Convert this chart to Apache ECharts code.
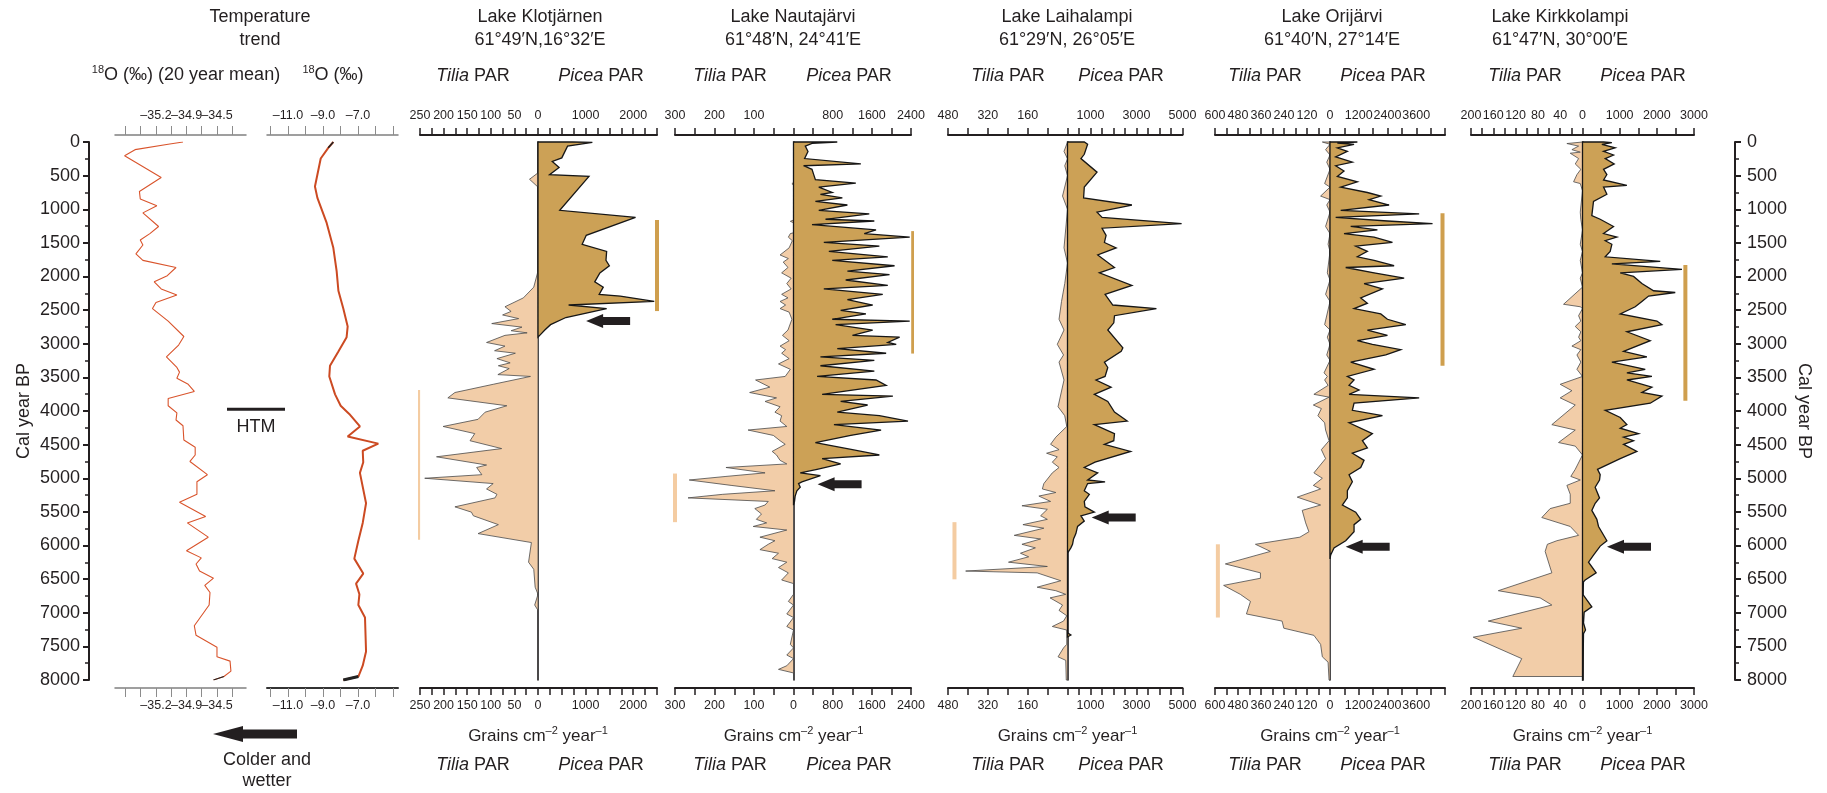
<!DOCTYPE html>
<html>
<head>
<meta charset="utf-8">
<script src="https://cdn.jsdelivr.net/npm/echarts@6/dist/echarts.min.js"></script>
<style>
html,body{margin:0;padding:0;background:#fff;}
#chart{width:1827px;height:793px;}
</style>
</head>
<body>
<div id="chart"></div>
<script>
// ================= DATA =================
const temp1Years = [0,34,114,204,528,735,846,947,1054,1256,1362,1457,1532,1664,1760,1866,1988,2079,2185,2275,2387,2477,2663,2892,3019,3194,3353,3422,3513,3603,3709,3815,3922,4028,4134,4219,4431,4538,4654,4750,4947,5053,5239,5356,5568,5664,5876,6078,6184,6275,6380,6486,6593,6699,6885,7193,7336,7512,7655,7719,7868,7948,8000];
const temp1Vals = [-34.89,-35.06,-35.44,-35.56,-35.14,-35.39,-35.38,-35.19,-35.35,-35.17,-35.27,-35.38,-35.35,-35.43,-35.35,-34.97,-35.07,-35.22,-35.14,-34.96,-35.20,-35.24,-35.06,-34.88,-34.94,-35.08,-34.96,-34.93,-34.96,-34.83,-34.76,-35.06,-35.06,-34.96,-34.97,-34.89,-34.88,-34.75,-34.75,-34.81,-34.61,-34.73,-34.73,-34.93,-34.63,-34.84,-34.60,-34.85,-34.68,-34.74,-34.70,-34.54,-34.64,-34.58,-34.59,-34.76,-34.74,-34.50,-34.50,-34.35,-34.34,-34.42,-34.54];
const temp2Years = [0,87,246,661,831,1203,1574,1920,2212,2477,2743,2902,3114,3327,3486,3752,3922,4044,4230,4378,4485,4591,4761,4920,5372,5664,5929,6195,6418,6567,6726,6885,7071,7576,7788,7948,8000];
const temp2Vals = [-8.41,-8.70,-9.13,-9.46,-9.32,-8.79,-8.41,-8.22,-8.12,-7.84,-7.59,-7.65,-8.12,-8.60,-8.64,-8.31,-7.99,-7.50,-6.89,-7.59,-5.84,-6.73,-6.70,-6.89,-6.54,-6.73,-6.98,-7.21,-6.70,-7.11,-6.92,-6.98,-6.60,-6.54,-6.73,-6.98,-7.84];
const temp1Ticks = [-35.55,-35.375,-35.2,-35.025,-34.85,-34.675,-34.5,-34.325];
const temp1Labels = [-35.2,-34.9,-34.5];
const temp2Ticks = [-12,-11,-10,-9,-8,-7,-6,-5];
const temp2Labels = [-11,-9,-7];
const htmYear = 3975;

const lakeNames = ['Lake Klotjärnen','Lake Nautajärvi','Lake Laihalampi','Lake Orijärvi','Lake Kirkkolampi'];
const lakeCoords = ['61°49′N,16°32′E','61°48′N, 24°41′E','61°29′N, 26°05′E','61°40′N, 27°14′E','61°47′N, 30°00′E'];

const klotPiceaYears = [0,7,61,236,289,379,486,512,1016,1122,1388,1521,1627,1760,1840,1946,2079,2158,2265,2291,2371,2424,2477,2557,2610,2716,2796,2876,2902];
const klotPiceaVals = [728,1142,621,500,300,443,243,1071,457,2049,1014,928,1442,1428,1499,1300,1192,1371,1285,1728,2442,643,1442,942,585,264,143,36,0];
const klotTiliaYears = [0,459,554,671,1919,2158,2318,2450,2519,2572,2626,2700,2753,2806,2838,2875,2981,3035,3104,3141,3221,3284,3327,3369,3459,3486,3603,3725,3805,3922,4017,4124,4230,4336,4442,4559,4681,4803,4840,4947,5000,5079,5159,5239,5292,5425,5504,5558,5690,5823,5956,6248,6354,6620,6726,6885,6965,8000];
const klotTiliaVals = [0,0,18,0,0,9,31,70,57,75,41,98,34,57,23,70,109,70,92,48,87,59,84,61,85,16,95,176,191,66,112,127,201,134,144,77,215,109,130,119,240,95,109,87,91,176,141,137,84,127,14,20,9,6,0,7,0,0];

const nautPiceaYears = [0,20,61,140,246,326,353,406,485,559,612,671,751,778,831,884,937,1016,1069,1149,1175,1229,1308,1362,1415,1494,1548,1627,1707,1760,1840,1919,1972,2052,2132,2185,2265,2344,2424,2503,2557,2636,2663,2716,2796,2875,2902,2981,3008,3072,3141,3194,3247,3327,3406,3486,3539,3619,3752,3778,3858,3911,4017,4070,4150,4203,4283,4363,4469,4575,4654,4708,4787,4867,4920,4962,5053,5079,5133,5186,5265,5345,5400];
const nautPiceaVals = [894,378,241,296,227,1376,206,378,413,447,1273,516,791,550,998,447,1101,516,1548,654,1651,378,1686,1445,2374,619,1754,722,1926,791,2064,1101,1961,1066,1926,619,1823,1101,1617,963,1479,791,2374,860,1617,1204,2167,1926,2098,894,1892,550,1651,550,1651,482,1686,1892,585,2030,963,1514,894,1754,2339,826,1789,1170,447,1204,1754,585,963,482,138,550,172,103,138,69,34,21,0];
const nautTiliaYears = [0,600,620,640,1160,1180,1200,1350,1362,1415,1468,1574,1680,1733,1786,1866,1946,2025,2105,2185,2265,2318,2371,2424,2477,2530,2636,2796,2875,2955,3035,3088,3141,3221,3300,3380,3486,3539,3645,3725,3805,3858,3937,4017,4070,4150,4230,4283,4363,4442,4495,4601,4654,4734,4787,4840,4920,4973,5026,5106,5186,5239,5292,5345,5398,5451,5531,5611,5664,5717,5770,5876,5929,5982,6062,6115,6195,6248,6328,6407,6513,6566,6726,6832,6885,7018,7071,7204,7257,7470,7523,7629,7682,7788,7842,7895,8000];
const nautTiliaVals = [0,0,4,0,0,8,0,0,8,13,3,11,34,13,26,14,30,6,17,6,30,14,34,20,34,11,4,14,28,11,34,20,30,11,38,8,21,96,60,111,43,72,34,47,30,34,17,115,51,34,21,54,43,34,17,171,72,171,264,158,47,179,267,64,72,98,81,94,68,102,17,85,47,64,85,38,54,17,38,13,30,0,0,13,0,17,0,17,0,8,0,17,0,17,38,0,0];

const laihPiceaYears = [0,34,183,246,449,671,831,937,1043,1122,1213,1282,1388,1494,1574,1680,1866,1946,2132,2265,2424,2477,2583,2689,2796,3061,3114,3273,3353,3486,3539,3645,3752,3858,4017,4150,4203,4336,4442,4495,4601,4761,4840,4920,5026,5053,5079,5186,5239,5345,5425,5504,5558,5637,5717,5823,5903,5982,6035,6115,7300,7330,7360];
const laihPiceaVals = [730,875,730,584,1284,730,700,2801,1284,1503,4961,1503,1678,1605,2116,1313,2043,1386,2801,1634,1970,3866,2043,2013,1751,2407,2334,1605,1751,1634,1240,1897,1167,1751,2043,2597,1167,2043,2013,1605,2743,1196,730,1313,875,1634,875,730,948,730,759,1167,584,730,438,365,263,219,146,0,0,146,0];
const laihTiliaYears = [0,140,250,353,500,804,1000,1574,1800,2105,2371,2636,2796,3008,3167,3273,3539,3937,4070,4230,4389,4495,4575,4628,4681,4761,4840,4920,5079,5159,5212,5265,5345,5409,5462,5558,5611,5690,5743,5849,5903,5982,6035,6115,6168,6248,6312,6380,6407,6524,6620,6672,6726,6779,6885,6965,7044,7124,7204,7257,7470,7523,7655,7708,8000];
const laihTiliaVals = [0,14,0,11,0,20,0,14,0,11,24,34,14,41,16,34,14,38,11,3,47,68,34,84,41,61,34,61,95,101,47,115,68,183,81,108,81,179,95,214,108,183,129,189,156,237,81,409,122,27,122,47,7,70,20,34,3,16,61,3,3,16,38,7,5];

const orijPiceaYears = [0,15,34,87,140,220,300,353,432,512,592,671,751,804,857,937,1016,1069,1122,1175,1213,1256,1308,1362,1415,1494,1548,1627,1707,1760,1840,1866,1946,2025,2105,2185,2318,2397,2477,2557,2636,2716,2796,2875,2955,3008,3088,3167,3273,3380,3486,3539,3619,3688,3752,3805,3884,3990,4070,4176,4336,4442,4548,4628,4734,4840,4947,5053,5186,5292,5398,5504,5611,5690,5796,5929,6035,6088,6142,6200];
const orijPiceaVals = [1143,307,1004,307,725,237,934,237,585,307,1143,446,1561,2119,1631,2467,446,3722,237,2398,4280,864,1979,585,1840,2607,1073,1561,1143,1840,2676,655,1840,3095,1422,2189,1282,1561,1004,2119,2398,3164,1561,2398,1143,1770,2955,2328,864,1840,725,1004,795,1213,795,3722,1004,934,2189,795,1770,1352,1561,934,1422,1282,795,934,725,725,516,1073,1282,1004,1004,655,167,98,28,0];
const orijTiliaYears = [0,34,114,193,300,406,618,671,804,857,937,1043,1256,1362,1521,1627,1946,2052,2265,2371,2716,2796,2902,3008,3167,3247,3433,3486,3539,3619,3752,3794,3911,3964,4070,4176,4283,4442,4575,4708,4920,5000,5106,5159,5281,5398,5478,5664,5796,5876,5982,6088,6274,6407,6487,6593,6726,6832,7018,7124,7230,7336,7470,7655,7735,8000];
const orijTiliaVals = [40,0,23,0,17,0,28,0,49,0,17,0,23,0,10,0,14,0,23,0,28,0,14,0,17,0,31,14,28,10,84,5,87,45,63,28,23,5,45,23,84,40,87,49,171,49,145,127,110,157,389,311,546,363,363,555,468,415,436,250,241,84,49,40,10,5];

const kirkPiceaYears = [0,10,34,87,140,193,246,326,406,485,565,645,671,778,884,1096,1149,1256,1362,1415,1468,1521,1627,1707,1776,1813,1893,1946,1999,2105,2212,2238,2291,2371,2450,2557,2663,2716,2822,2955,3114,3194,3273,3380,3433,3486,3539,3645,3725,3778,3884,3990,4097,4203,4256,4336,4389,4442,4495,4601,4708,4867,4947,5026,5133,5292,5372,5478,5611,5717,5929,6009,6142,6248,6407,6513,6540,6726,6912,6991,7151,7257,7310,8000];
const kirkPiceaVals = [566,790,521,880,566,835,611,853,566,656,566,1194,566,656,296,251,476,835,566,925,611,790,745,611,2092,790,2676,1015,1374,1598,1913,2496,1778,1598,1419,1015,2003,2137,1194,1823,1105,1733,790,1688,1194,1868,1194,1868,1598,2137,1823,611,1015,1194,1015,1509,1105,1374,1105,1464,1015,404,476,458,341,458,341,251,386,431,656,476,296,162,368,72,27,9,251,45,27,81,27,9];
const kirkTiliaYears = [0,23,61,114,151,167,246,326,406,485,592,618,725,1043,1149,1308,1521,1627,1760,1946,2025,2158,2413,2450,2477,2583,2663,2743,2822,2902,2955,3035,3088,3167,3273,3380,3486,3603,3698,3805,3911,4203,4283,4469,4522,4654,4867,4973,5026,5106,5239,5372,5451,5584,5717,5849,5929,5982,6088,6407,6672,6779,6885,7124,7230,7363,7682,7948];
const kirkTiliaVals = [0,28,7,19,4,22,7,13,3,10,16,4,0,4,3,0,4,0,4,0,4,0,34,4,0,7,3,13,3,7,3,19,3,10,3,10,0,40,19,40,13,55,13,43,13,0,13,21,4,28,22,22,58,73,22,7,46,63,67,55,151,76,55,169,109,196,109,125];

const tiliaMax = [250,300,480,600,200];
const tiliaStep = [25,50,80,60,20];
const piceaMax = [2500,2400,5000,4800,3000];
const piceaStep = [250,400,500,600,500];
const tiliaLabelsTop = [[250,200,150,100,50,0],[300,200,100],[480,320,160],[600,480,360,240,120,0],[200,160,120,80,40,0]];
const tiliaLabelsBottom = [[250,200,150,100,50,0],[300,200,100,0],[480,320,160],[600,480,360,240,120,0],[200,160,120,80,40,0]];
const piceaLabels = [[1000,2000],[800,1600,2400],[1000,3000,5000],[1200,2400,3600],[1000,2000,3000]];

const tiliaBarStart = [3688,4930,5653,5982,6503];
const tiliaBarEnd = [5913,5653,6503,7071,7842];
const tiliaBarValue = [254,300,454,585,208];
const piceaBarStart = [1160,1325,1213,1060,1829];
const piceaBarEnd = [2514,3146,3327,3327,3847];
const piceaBarValue = [2500,2445,5326,4696,2768];
const arrowYear = [2663,5090,5584,6020,6020];
const arrowValue = [1011,492,1052,654,659];

const tiliaYears = [klotTiliaYears,nautTiliaYears,laihTiliaYears,orijTiliaYears,kirkTiliaYears];
const tiliaVals = [klotTiliaVals,nautTiliaVals,laihTiliaVals,orijTiliaVals,kirkTiliaVals];
const piceaYears = [klotPiceaYears,nautPiceaYears,laihPiceaYears,orijPiceaYears,kirkPiceaYears];
const piceaVals = [klotPiceaVals,nautPiceaVals,laihPiceaVals,orijPiceaVals,kirkPiceaVals];

// ================= LAYOUT =================
const LAYOUT = [
  {tl:420, zero:538, pr:657, title:540, tTxt:473, pTxt:601},
  {tl:675, zero:793.5, pr:911, title:793, tTxt:730, pTxt:849},
  {tl:948, zero:1067.5, pr:1182.5, title:1067, tTxt:1008, pTxt:1121},
  {tl:1215, zero:1330, pr:1445, title:1332, tTxt:1265, pTxt:1383},
  {tl:1471, zero:1582.5, pr:1694, title:1560, tTxt:1525, pTxt:1643}
];
const TXT = '#231f20';
const FONT = "'Liberation Sans', Arial, Helvetica, sans-serif";
const TICKFONT = "'Liberation Sans Narrow', 'Arial Narrow', 'Liberation Sans', sans-serif";
const TICKSIZE = 12.5;
const PLOT_TOP = 142, PLOT_H = 538;
const TILIA_FILL = '#f2cda8', PICEA_FILL = '#cca156';
const TILIA_BAR = '#f4cca2', PICEA_BAR = '#cf9f4e';

const grids = [], xAxes = [], yAxes = [], series = [], graphics = [];

function addGrid(left, width) {
  grids.push({left:left, top:PLOT_TOP, width:width, height:PLOT_H, containLabel:false});
  return grids.length - 1;
}
function lakeX(gi, pos, max, step, labels, inverse) {
  const set = new Set(labels);
  xAxes.push({
    gridIndex:gi, type:'value', position:pos, min:0, max:max, interval:step, inverse:inverse,
    offset: pos === 'top' ? 7 : 8,
    axisLine:{show:true, onZero:false, lineStyle:{color:TXT, width:2}},
    axisTick:{show:true, inside:false, length:7, lineStyle:{color:TXT, width:1.5}},
    axisLabel:{show:true, margin: pos === 'top' ? 13 : 11, fontSize:TICKSIZE, fontFamily:TICKFONT, color:TXT,
      showMinLabel:true, showMaxLabel:true, hideOverlap:false,
      formatter: function(v){ return set.has(v) ? String(v) : ''; }},
    splitLine:{show:false}
  });
  return xAxes.length - 1;
}
function tempX(gi, pos, min, max, ticks, labels, lineColor, lineWidth, shiftMiddle) {
  // empty padding labels at both ends so that no edge-label overlap removal hides a real label
  const labelVals = [min + 0.001].concat(labels, [max - 0.001]);
  xAxes.push({
    gridIndex:gi, type:'value', position:pos, min:min, max:max,
    offset: pos === 'top' ? 7 : 8,
    axisLine:{show:true, onZero:false, lineStyle:{color:lineColor, width:lineWidth}},
    axisTick:{show:true, inside:false, length:9, customValues:ticks, lineStyle:{color:'#8c8c8c', width:1}},
    axisLabel:{show:true, margin: pos === 'top' ? 13 : 11, fontSize:12.5, fontFamily:TICKFONT, color:TXT,
      customValues:labelVals, showMinLabel:true, showMaxLabel:true, hideOverlap:false,
      rich:{m:{fontSize:12.5, fontFamily:TICKFONT, color:TXT, padding:[0,0,0,shiftMiddle ? 9 : 0]}},
      formatter: function(v){
        const idx = labels.findIndex(function(l){ return Math.abs(l - v) < 1e-6; });
        if (idx < 0) return '';
        const s = '\u2013' + Math.abs(v).toFixed(1);
        return idx === 1 ? '{m|' + s + '}' : s;
      }},
    splitLine:{show:false}
  });
  return xAxes.length - 1;
}
function hiddenY(gi) {
  yAxes.push({gridIndex:gi, type:'value', min:0, max:8000, inverse:true, show:false});
  return yAxes.length - 1;
}
function zeroLineY(gi) {
  yAxes.push({gridIndex:gi, type:'value', min:0, max:8000, inverse:true, position:'left',
    axisLine:{show:true, onZero:false, lineStyle:{color:TXT, width:1.6}},
    axisTick:{show:false}, axisLabel:{show:false}, splitLine:{show:false}});
  return yAxes.length - 1;
}
function yearAxisStyle(pos, offset, nameGap, rot) {
  return {type:'value', min:0, max:8000, inverse:true, interval:500, position:pos, offset:offset,
    axisLine:{show:true, onZero:false, lineStyle:{color:TXT, width:2}},
    axisTick:{show:true, inside:false, length:6, lineStyle:{color:TXT, width:2}},
    minorTick:{show:true, splitNumber:2, length:4, lineStyle:{color:TXT, width:1.5}},
    axisLabel:{fontSize:18, fontFamily:FONT, color:TXT, margin: pos === 'left' ? 9 : 12,
      formatter:function(v){ return String(v); }},
    splitLine:{show:false}, minorSplitLine:{show:false},
    name:'Cal year BP', nameLocation:'middle', nameGap:nameGap, nameRotate:rot,
    nameTextStyle:{fontSize:18, fontFamily:FONT, color:TXT}};
}
function polySeries(xi, yi, years, vals, fill, stroke, lw) {
  const data = years.map(function(y, i){ return [vals[i], y]; });
  return {
    type:'custom', xAxisIndex:xi, yAxisIndex:yi, data:data, silent:true, z:3,
    encode:{x:0, y:1},
    renderItem: function(params, api) {
      if (params.dataIndex !== 0) return null;
      const pts = [api.coord([0, years[0]])];
      for (let i = 0; i < years.length; i++) pts.push(api.coord([vals[i], years[i]]));
      pts.push(api.coord([0, years[years.length - 1]]));
      return {type:'polygon', shape:{points:pts}, style:{fill:fill, stroke:stroke, lineWidth:lw, lineJoin:'miter', miterLimit:4}};
    }
  };
}
function barSeries(xi, yi, v, y0, y1, color) {
  return {type:'line', xAxisIndex:xi, yAxisIndex:yi, data:[[v, y0],[v, y1]], symbol:'none', showSymbol:false,
    clip:false, silent:true, z:2, lineStyle:{color:color, width:4, cap:'butt'}};
}
function arrowSeries(xi, yi, v, y) {
  return {type:'custom', xAxisIndex:xi, yAxisIndex:yi, data:[[v, y]], silent:true, z:6, clip:false,
    encode:{x:0, y:1},
    renderItem: function(params, api) {
      const p = api.coord([api.value(0), api.value(1)]);
      const x = p[0], yy = p[1];
      const HL = 17, HH = 7, SH = 4, LEN = 44;
      return {type:'polygon', shape:{points:[[x,yy],[x+HL,yy-HH],[x+HL,yy-SH],[x+LEN,yy-SH],[x+LEN,yy+SH],[x+HL,yy+SH],[x+HL,yy+HH]]},
        style:{fill:TXT}};
    }
  };
}
function txt(x, y, text, size, extra) {
  const st = Object.assign({text:text, fontSize:size || 18, fontFamily:FONT, fill:TXT,
    textAlign:'center', align:'center', textVerticalAlign:'middle', verticalAlign:'middle'}, extra || {});
  return {type:'text', x:x, y:y, style:st, silent:true};
}

// ---------- temperature panels ----------
const g0 = addGrid(115, 131);
const t1top = tempX(g0, 'top', -35.67, -34.167, temp1Ticks, temp1Labels, '#808080', 1.5, true);
const t1bot = tempX(g0, 'bottom', -35.67, -34.167, temp1Ticks, temp1Labels, '#808080', 1.5, true);
yAxes.push(Object.assign({gridIndex:g0}, yearAxisStyle('left', 26, 56, 90)));
const t1y = yAxes.length - 1;

const g1 = addGrid(267, 131);
const t2top = tempX(g1, 'top', -12.2, -4.714, temp2Ticks, temp2Labels, '#808080', 1.5, false);
const t2bot = tempX(g1, 'bottom', -12.2, -4.714, temp2Ticks, temp2Labels, '#333', 2, false);
const t2y = hiddenY(g1);

const t1Data = temp1Years.map(function(y, i){ return [temp1Vals[i], y]; });
const t2Data = temp2Years.map(function(y, i){ return [temp2Vals[i], y]; });
series.push({type:'line', xAxisIndex:t1top, yAxisIndex:t1y, data:t1Data, symbol:'none', showSymbol:false, silent:true,
  lineStyle:{color:'#d9542c', width:1.1}, z:3});
series.push({type:'line', xAxisIndex:t1top, yAxisIndex:t1y, data:t1Data.slice(-2), symbol:'none', showSymbol:false, silent:true,
  lineStyle:{color:'#222', width:1.1}, z:4});
series.push({type:'line', xAxisIndex:t2top, yAxisIndex:t2y, data:t2Data, symbol:'none', showSymbol:false, silent:true,
  lineStyle:{color:'#cc4a22', width:2}, z:3});
series.push({type:'line', xAxisIndex:t2top, yAxisIndex:t2y, data:t2Data.slice(0,2), symbol:'none', showSymbol:false, silent:true,
  lineStyle:{color:'#222', width:1.5}, z:4});
series.push({type:'line', xAxisIndex:t2top, yAxisIndex:t2y, data:t2Data.slice(-2), symbol:'none', showSymbol:false, silent:true,
  lineStyle:{color:'#222', width:3}, z:4});
// HTM marker
series.push({type:'custom', xAxisIndex:t2top, yAxisIndex:t2y, data:[[-12.2, htmYear]], silent:true, clip:false, z:5,
  encode:{x:0, y:1},
  renderItem: function(params, api) {
    const p = api.coord([api.value(0), api.value(1)]);
    const gx = params.coordSys.x;
    return {type:'group', children:[
      {type:'line', shape:{x1:gx-40, y1:p[1], x2:gx+18, y2:p[1]}, style:{stroke:TXT, lineWidth:3}},
      {type:'text', x:gx-11, y:p[1]+18, style:{text:'HTM', fontSize:18, fontFamily:FONT, fill:TXT,
        textAlign:'center', align:'center', textVerticalAlign:'middle', verticalAlign:'middle'}}
    ]};
  }});

// ---------- lake panels ----------
for (let k = 0; k < 5; k++) {
  const L = LAYOUT[k];
  const gt = addGrid(L.tl, L.zero - L.tl);
  const gp = addGrid(L.zero, L.pr - L.zero);
  const xtTop = lakeX(gt, 'top', tiliaMax[k], tiliaStep[k], tiliaLabelsTop[k], true);
  lakeX(gt, 'bottom', tiliaMax[k], tiliaStep[k], tiliaLabelsBottom[k], true);
  const xpTop = lakeX(gp, 'top', piceaMax[k], piceaStep[k], piceaLabels[k], false);
  lakeX(gp, 'bottom', piceaMax[k], piceaStep[k], piceaLabels[k], false);
  const yt = hiddenY(gt);
  const yp = zeroLineY(gp);
  if (k === 4) {
    yAxes.push(Object.assign({gridIndex:gp}, yearAxisStyle('right', 41, 60, -90)));
  }
  series.push(polySeries(xtTop, yt, tiliaYears[k], tiliaVals[k], TILIA_FILL, '#4a4a4a', 0.8));
  series.push(polySeries(xpTop, yp, piceaYears[k], piceaVals[k], PICEA_FILL, '#161616', 1.3));
  series.push(barSeries(xtTop, yt, tiliaBarValue[k], tiliaBarStart[k], tiliaBarEnd[k], TILIA_BAR));
  series.push(barSeries(xpTop, yp, piceaBarValue[k], piceaBarStart[k], piceaBarEnd[k], PICEA_BAR));
  series.push(arrowSeries(xpTop, yp, arrowValue[k], arrowYear[k]));

  graphics.push(txt(L.title, 17, lakeNames[k], 18));
  graphics.push(txt(L.title, 40, lakeCoords[k], 18));
  const rich = {i:{fontStyle:'italic', fontSize:18, fontFamily:FONT, fill:TXT}, n:{fontSize:18, fontFamily:FONT, fill:TXT}};
  graphics.push(txt(L.tTxt, 76, '{i|Tilia}{n| PAR}', 18, {rich:rich}));
  graphics.push(txt(L.pTxt, 76, '{i|Picea}{n| PAR}', 18, {rich:rich}));
  graphics.push(txt(L.tTxt, 765, '{i|Tilia}{n| PAR}', 18, {rich:rich}));
  graphics.push(txt(L.pTxt, 765, '{i|Picea}{n| PAR}', 18, {rich:rich}));
  graphics.push(txt(L.zero, 736, '{n|Grains cm}{s|\u20132}{n| year}{s|\u20131}', 17, {rich:{
    n:{fontSize:17, fontFamily:FONT, fill:TXT, lineHeight:22},
    s:{fontSize:11, fontFamily:FONT, fill:TXT, verticalAlign:'top', lineHeight:22}}}));
}

// ---------- headers & annotations ----------
graphics.push(txt(260, 17, 'Temperature', 18));
graphics.push(txt(260, 40, 'trend', 18));
const supRich = {s:{fontSize:11, fontFamily:FONT, fill:TXT, verticalAlign:'top', lineHeight:22},
                 n:{fontSize:18, fontFamily:FONT, fill:TXT, lineHeight:22}};
graphics.push(txt(186, 75, '{s|18}{n|O (\u2030) (20 year mean)}', 18, {rich:supRich}));
graphics.push(txt(333, 75, '{s|18}{n|O (\u2030)}', 18, {rich:supRich}));
graphics.push({type:'polygon', silent:true,
  shape:{points:[[213,734],[243,726],[243,729.5],[297,729.5],[297,738.5],[243,738.5],[243,742]]},
  style:{fill:TXT}});
graphics.push(txt(267, 760, 'Colder and', 18));
graphics.push(txt(267, 781, 'wetter', 18));

const chart = echarts.init(document.getElementById('chart'), null, {renderer:'canvas'});
chart.setOption({
  backgroundColor:'#ffffff',
  animation:false,
  grid:grids, xAxis:xAxes, yAxis:yAxes, series:series, graphic:graphics
});
</script>
</body>
</html>
